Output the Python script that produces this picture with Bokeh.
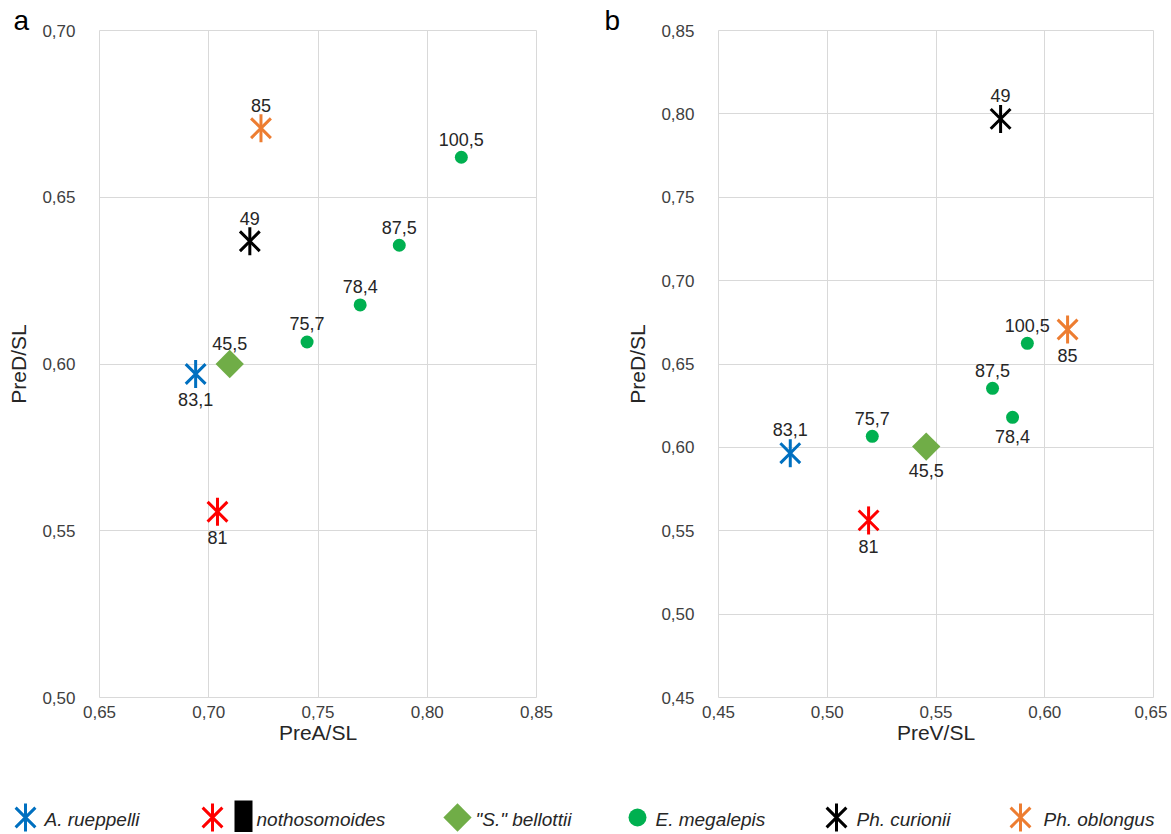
import numpy as np
from bokeh.plotting import figure
from bokeh.layouts import column, row
from bokeh.models import Range1d, FixedTicker, ColumnDataSource, CustomJSTickFormatter
from bokeh.core.properties import value
from bokeh.embed import file_html
from bokeh.resources import INLINE

# ---------------- data ----------------
species = ["A. rueppelli", "nothosomoides", '"S." bellottii', "E. megalepis", "Ph. curionii", "Ph. oblongus"]

rueppelli_preA = [0.694]
rueppelli_preV = [0.483]
rueppelli_preD_a = [0.597]
rueppelli_preD_b = [0.5965]
rueppelli_lab = ["83,1"]

notho_preA = [0.704]
notho_preV = [0.519]
notho_preD_a = [0.5557]
notho_preD_b = [0.5562]
notho_lab = ["81"]

bellottii_preA = [0.7096]
bellottii_preV = [0.5455]
bellottii_preD_a = [0.600]
bellottii_preD_b = [0.6005]
bellottii_lab = ["45,5"]

megalepis_preA = [0.745, 0.7693, 0.7872, 0.8156]
megalepis_preV = [0.5207, 0.5852, 0.576, 0.592]
megalepis_preD_a = [0.6066, 0.6177, 0.6356, 0.6620]
megalepis_preD_b = [0.6066, 0.6180, 0.6354, 0.6624]
megalepis_lab = ["75,7", "78,4", "87,5", "100,5"]

curionii_preA = [0.7188]
curionii_preV = [0.5797]
curionii_preD_a = [0.6368]
curionii_preD_b = [0.7970]
curionii_lab = ["49"]

oblongus_preA = [0.7239]
oblongus_preV = [0.6105]
oblongus_preD_a = [0.6707]
oblongus_preD_b = [0.6707]
oblongus_lab = ["85"]

x_ticks_a = [0.65, 0.70, 0.75, 0.80, 0.85]
y_ticks_a = [0.50, 0.55, 0.60, 0.65, 0.70]
x_ticks_b = [0.45, 0.50, 0.55, 0.60, 0.65]
y_ticks_b = [0.45, 0.50, 0.55, 0.60, 0.65, 0.70, 0.75, 0.80, 0.85]

# label side per point (styling)
sides_a = {"rue": ["below"], "not": ["below"], "bel": ["above"], "meg": ["above"] * 4,
           "cur": ["above"], "obl": ["above"]}
sides_b = {"rue": ["above"], "not": ["below"], "bel": ["below"], "meg": ["above", "below", "above", "above"],
           "cur": ["above"], "obl": ["below"]}

# ---------------- styles ----------------
C_BLUE = "#0070C0"
C_RED = "#FF0000"
C_DIAM = "#70AD47"
C_GREEN = "#00B050"
C_BLACK = "#000000"
C_ORANGE = "#ED7D31"
FONT = "Liberation Sans"
GRID = "#d9d9d9"
TXT = "#262626"
TICK_TXT = "#404040"
AST = 28
FIG_H = 750

def make_fig(xr, yr, xt, yt, xlabel, ylabel, width, mbl, mbr, letter, letter_off):
    p = figure(width=width, height=FIG_H, x_range=Range1d(*xr), y_range=Range1d(*yr),
               output_backend="svg", toolbar_location=None,
               min_border_left=mbl, min_border_right=mbr, min_border_top=30, min_border_bottom=53)
    fmt = CustomJSTickFormatter(code="return tick.toFixed(2).replace('.', ',');")
    for ax, ticks in ((p.xaxis, xt), (p.yaxis, yt)):
        ax.ticker = FixedTicker(ticks=ticks)
        ax.formatter = fmt
        ax.axis_line_color = None
        ax.major_tick_line_color = None
        ax.minor_tick_line_color = None
        ax.major_label_text_font = FONT
        ax.major_label_text_font_size = "17px"
        ax.major_label_text_color = TICK_TXT
        ax.axis_label_text_font = FONT
        ax.axis_label_text_font_size = "21px"
        ax.axis_label_text_font_style = "normal"
        ax.axis_label_text_color = TXT
    p.xaxis.axis_label = xlabel
    p.yaxis.axis_label = ylabel
    p.xaxis.major_label_standoff = 2
    p.xaxis.axis_label_standoff = 0
    p.yaxis.major_label_standoff = 18
    p.yaxis.axis_label_standoff = 9
    p.xgrid.ticker = FixedTicker(ticks=xt)
    p.ygrid.ticker = FixedTicker(ticks=yt)
    p.grid.grid_line_color = GRID
    p.grid.grid_line_width = 1
    p.outline_line_color = GRID
    p.outline_line_width = 1
    p.background_fill_color = "white"
    p.border_fill_color = "white"
    # panel letter as the figure title
    p.title.text = letter
    p.title.align = "left"
    p.title.offset = letter_off
    p.title.text_font = FONT
    p.title.text_font_size = "28px"
    p.title.text_font_style = "normal"
    p.title.text_color = "black"
    p.title.standoff = -10
    return p

def asterisk(p, x, y, color, size=AST):
    p.scatter(x, y, marker="x", size=size, line_color=color, line_width=3)
    p.scatter(x, y, marker="dash", size=size, angle=np.pi / 2, line_color=color, line_width=3)

def labels(p, x, y, texts, sides, up, down):
    dy = [(-up if s == "above" else down) for s in sides]
    src = ColumnDataSource(dict(x=x, y=y, t=texts, dy=dy))
    p.text(x="x", y="y", text="t", y_offset="dy", source=src, text_align="center",
           text_baseline="middle", text_font=value(FONT), text_font_size="18px", text_color=TXT)

def panel(p, xs, ys, sides):
    (xr, xn, xb, xm, xc, xo) = xs
    (yr, yn, yb, ym, yc, yo) = ys
    p.scatter(xm, ym, marker="circle", size=13, fill_color=C_GREEN, line_color=None)
    p.scatter(xb, yb, marker="square", size=20, angle=np.pi / 4, fill_color=C_DIAM, line_color=None)
    asterisk(p, xr, yr, C_BLUE)
    asterisk(p, xn, yn, C_RED)
    asterisk(p, xc, yc, C_BLACK)
    asterisk(p, xo, yo, C_ORANGE)
    labels(p, xr, yr, rueppelli_lab, sides["rue"], 24, 25)
    labels(p, xn, yn, notho_lab, sides["not"], 24, 26)
    labels(p, xb, yb, bellottii_lab, sides["bel"], 21, 24)
    labels(p, xm, ym, megalepis_lab, sides["meg"], 18, 19)
    labels(p, xc, yc, curionii_lab, sides["cur"], 23, 24)
    labels(p, xo, yo, oblongus_lab, sides["obl"], 23, 26)

pa = make_fig((0.65, 0.85), (0.50, 0.70), x_ticks_a, y_ticks_a, "PreA/SL", "PreD/SL", 600, 99, 64, "a", -86)
panel(pa, (rueppelli_preA, notho_preA, bellottii_preA, megalepis_preA, curionii_preA, oblongus_preA),
      (rueppelli_preD_a, notho_preD_a, bellottii_preD_a, megalepis_preD_a, curionii_preD_a, oblongus_preD_a),
      sides_a)

pb = make_fig((0.45, 0.65), (0.45, 0.85), x_ticks_b, y_ticks_b, "PreV/SL", "PreD/SL", 567, 118, 14, "b", -114)
panel(pb, (rueppelli_preV, notho_preV, bellottii_preV, megalepis_preV, curionii_preV, oblongus_preV),
      (rueppelli_preD_b, notho_preD_b, bellottii_preD_b, megalepis_preD_b, curionii_preD_b, oblongus_preD_b),
      sides_b)

# ---------------- legend strip ----------------
LH = 82
lg = figure(width=1167, height=LH, x_range=Range1d(0, 1167), y_range=Range1d(LH, 0),
            output_backend="svg", toolbar_location=None, x_axis_type=None, y_axis_type=None,
            min_border=0, min_border_left=0, min_border_right=0, min_border_top=0, min_border_bottom=0)
lg.outline_line_color = None
lg.grid.visible = False
ly = 67
marker_x = [25, 212, 457, 637, 836, 1020]
text_x = [44, 256, 475, 655, 856, 1043]
asterisk(lg, [marker_x[0]], [ly], C_BLUE)
asterisk(lg, [marker_x[1]], [ly], C_RED)
lg.quad(left=[234], right=[252], top=[ly - 17], bottom=[LH], fill_color="black", line_color=None)
lg.scatter([marker_x[2]], [ly], marker="square", size=20, angle=np.pi / 4, fill_color=C_DIAM, line_color=None)
lg.scatter([marker_x[3]], [ly], marker="circle", size=18, fill_color=C_GREEN, line_color=None)
asterisk(lg, [marker_x[4]], [ly], C_BLACK)
asterisk(lg, [marker_x[5]], [ly], C_ORANGE)
lg.text(x=text_x, y=[ly + 2] * 6, text=species, text_align="left", text_baseline="middle",
        text_font=value(FONT), text_font_size="19px", text_font_style="italic", text_color=TXT)

layout = column(row(pa, pb), lg)
open("out.html", "w").write(file_html(layout, INLINE))
